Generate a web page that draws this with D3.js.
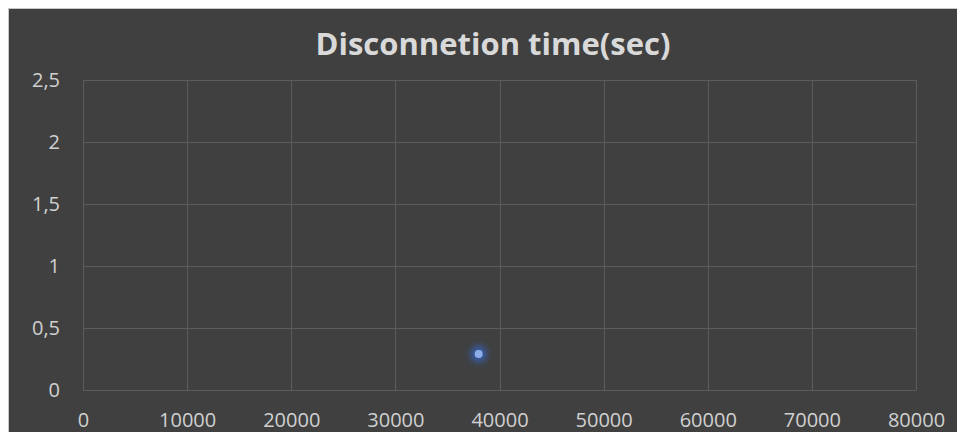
<!DOCTYPE html>
<html>
<head>
<meta charset="utf-8">
<script src="https://cdn.jsdelivr.net/npm/d3@7"></script>
<style>
    html, body { margin: 0; padding: 0; background: #ffffff; }
    svg { display: block; }
</style>
</head>
<body>
<div id="chart"></div>
<script>
// data
var xTicks = [0, 10000, 20000, 30000, 40000, 50000, 60000, 70000, 80000];
var yTicks = [0, 0.5, 1, 1.5, 2, 2.5];
var pointX = [38000];
var pointY = [0.29];
var title = 'Disconnetion time(sec)';

var width = 957, height = 432;
var margin = {top: 80, right: 41, bottom: 42, left: 83};

var svg = d3.select('#chart').append('svg')
    .attr('width', width)
    .attr('height', height);

// frame of the chart area
svg.append('rect')
    .attr('x', 8.5).attr('y', 8.5)
    .attr('width', width).attr('height', height)
    .attr('fill', '#404040')
    .attr('stroke', '#c8c8c8')
    .attr('stroke-width', 1);

var defs = svg.append('defs');
var glow = defs.append('filter').attr('id', 'glow')
    .attr('x', '-200%').attr('y', '-200%').attr('width', '500%').attr('height', '500%');
glow.append('feGaussianBlur').attr('stdDeviation', 3.5);

var x = d3.scaleLinear()
    .domain([0, 80000])
    .range([margin.left, width - margin.right]);
var y = d3.scaleLinear()
    .domain([0, 2.5])
    .range([height - margin.bottom, margin.top]);

var fmt = function (d) { return String(d).replace('.', ','); };

// grid
var grid = svg.append('g');
grid.selectAll('line.h').data(yTicks).enter().append('line')
    .attr('class', 'h')
    .attr('x1', x(0)).attr('x2', x(80000))
    .attr('y1', function (d) { return Math.round(y(d)) + 0.5; })
    .attr('y2', function (d) { return Math.round(y(d)) + 0.5; })
    .attr('stroke', '#5c5c5c').attr('stroke-width', 1);
grid.selectAll('line.v').data(xTicks).enter().append('line')
    .attr('class', 'v')
    .attr('x1', function (d) { return Math.round(x(d)) + 0.5; })
    .attr('x2', function (d) { return Math.round(x(d)) + 0.5; })
    .attr('y1', y(2.5)).attr('y2', y(0))
    .attr('stroke', '#5c5c5c').attr('stroke-width', 1);

// axes labels
var yAxis = d3.axisLeft(y).tickValues(yTicks).tickFormat(fmt).tickSize(0).tickPadding(23);
var gy = svg.append('g').attr('transform', 'translate(' + x(0) + ',0)').call(yAxis);
gy.select('.domain').remove();
gy.selectAll('text')
    .attr('fill', '#d0d0d0')
    .style('font-family', '"Open Sans", sans-serif')
    .style('font-size', '20px');

var xAxis = d3.axisBottom(x).tickValues(xTicks).tickFormat(d3.format('d')).tickSize(0).tickPadding(23);
var gx = svg.append('g').attr('transform', 'translate(0,' + y(0) + ')').call(xAxis);
gx.select('.domain').remove();
gx.selectAll('text')
    .attr('fill', '#d0d0d0')
    .style('font-family', '"Open Sans", sans-serif')
    .style('font-size', '20px');

// title
svg.append('text')
    .attr('x', 493).attr('y', 55)
    .attr('text-anchor', 'middle')
    .attr('fill', '#d9d9d9')
    .attr('textLength', 355)
    .attr('lengthAdjust', 'spacingAndGlyphs')
    .style('font-family', '"Open Sans", sans-serif')
    .style('font-weight', 'bold')
    .style('font-size', '30px')
    .text(title);

// the point
var pts = pointX.map(function (d, i) { return {x: d, y: pointY[i]}; });
svg.append('g').selectAll('circle.glow').data(pts).enter().append('circle')
    .attr('cx', function (d) { return x(d.x); })
    .attr('cy', function (d) { return y(d.y); })
    .attr('r', 8)
    .attr('fill', '#3566c8')
    .attr('opacity', 0.85)
    .attr('filter', 'url(#glow)');
svg.append('g').selectAll('circle.dot').data(pts).enter().append('circle')
    .attr('cx', function (d) { return x(d.x); })
    .attr('cy', function (d) { return y(d.y); })
    .attr('r', 4)
    .attr('fill', '#8eaee8');
</script>
</body>
</html>
